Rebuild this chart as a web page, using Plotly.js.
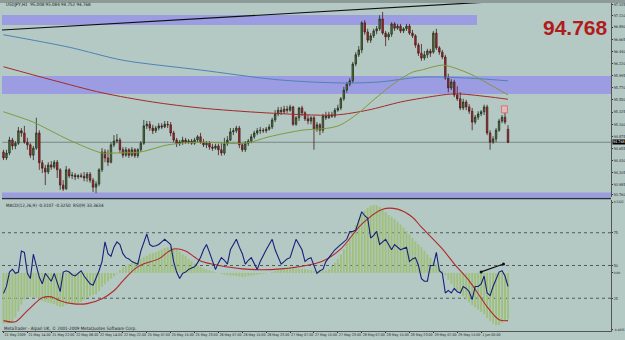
<!DOCTYPE html>
<html><head><meta charset="utf-8">
<script src="https://cdn.plot.ly/plotly-3.0.1.min.js"></script>
<style>html,body{margin:0;padding:0;background:#b4c8c4;}#chart{width:625px;height:340px;}</style>
</head><body><div id="chart"></div>
<script>
// ---------- DATA (USDJPY H1) ----------
const openP = [
94.59,94.48,94.57,94.81,94.70,94.75,94.98,94.94,94.77,94.72,
94.53,94.66,94.94,94.39,94.29,94.22,94.35,94.31,94.40,94.26,
93.98,93.91,94.26,94.15,94.16,94.13,94.15,94.14,94.11,94.18,
94.07,93.94,94.00,94.26,94.59,94.48,94.40,94.72,94.79,94.81,
94.63,94.53,94.63,94.53,94.63,94.52,94.63,94.75,95.07,95.10,
95.03,94.98,95.03,95.07,95.05,95.10,95.09,94.94,94.81,94.74,
94.77,94.81,94.77,94.79,94.75,94.81,94.87,94.77,94.72,94.75,
94.68,94.66,94.70,94.63,94.57,94.74,94.81,94.96,94.98,95.03,
94.72,94.63,94.75,94.79,94.87,94.94,94.98,94.99,94.98,95.01,
95.05,95.18,95.29,95.36,95.33,95.38,95.36,95.42,95.10,95.22,
95.40,95.31,95.20,95.16,95.22,95.01,95.09,94.99,95.25,95.22,
95.27,95.25,95.36,95.40,95.57,95.73,95.84,95.90,96.21,96.38,
96.47,96.97,96.80,96.65,96.73,96.82,96.86,97.04,96.78,96.71,
96.76,96.95,96.87,96.91,96.82,96.86,96.91,96.78,96.73,96.56,
96.41,96.32,96.38,96.45,96.43,96.78,96.51,96.43,96.34,95.95,
95.77,95.88,95.64,95.57,95.40,95.51,95.42,95.34,95.14,95.23,
95.29,95.33,95.42,94.94,94.77,94.83,94.99,95.16,95.23,95.008];
const highP = [
94.63,94.63,94.87,94.85,94.79,95.05,95.03,95.07,94.85,94.75,
94.70,95.22,94.99,94.44,94.35,94.40,94.42,94.44,94.44,94.29,
94.07,94.33,94.29,94.22,94.20,94.18,94.20,94.22,94.22,94.22,
94.11,94.05,94.29,94.66,94.64,94.63,94.77,94.90,94.92,94.85,
94.68,94.68,94.66,94.68,94.66,94.66,94.79,95.18,95.16,95.16,
95.09,95.07,95.12,95.12,95.16,95.16,95.14,94.98,94.85,94.81,
94.87,94.85,94.83,94.83,94.85,94.90,94.94,94.83,94.79,94.79,
94.74,94.74,94.74,94.75,94.85,94.88,95.03,95.03,95.07,95.07,
94.75,94.79,94.83,94.92,94.98,95.03,95.05,95.03,95.05,95.10,
95.22,95.36,95.42,95.42,95.44,95.44,95.46,95.44,95.25,95.42,
95.44,95.34,95.27,95.25,95.25,95.14,95.12,95.29,95.33,95.33,
95.33,95.40,95.46,95.60,95.79,95.88,95.95,96.25,96.43,96.54,
97.00,97.02,96.86,96.78,96.86,96.91,97.11,97.17,96.82,96.80,
96.98,96.98,96.95,96.95,96.89,96.95,96.95,96.84,96.76,96.60,
96.58,96.45,96.49,96.49,96.82,96.86,96.54,96.47,96.38,96.03,
95.93,95.92,95.80,95.69,95.57,95.55,95.47,95.40,95.27,95.34,
95.36,95.46,95.46,94.99,94.88,95.03,95.20,95.27,95.42,95.084];
const lowP = [
94.44,94.44,94.53,94.63,94.64,94.72,94.87,94.74,94.63,94.48,
94.44,94.63,94.26,94.20,93.98,94.18,94.26,94.28,94.11,93.89,
93.87,93.89,94.11,94.09,94.07,94.09,94.11,94.05,94.04,94.02,
93.85,93.83,93.96,94.22,94.40,94.33,94.38,94.68,94.75,94.57,
94.48,94.50,94.48,94.50,94.48,94.48,94.59,94.72,95.01,94.98,
94.92,94.94,94.99,95.01,95.03,95.03,94.88,94.77,94.68,94.70,
94.72,94.74,94.74,94.72,94.72,94.77,94.74,94.68,94.66,94.63,
94.61,94.63,94.53,94.52,94.53,94.70,94.79,94.90,94.94,94.66,
94.59,94.59,94.70,94.75,94.83,94.90,94.92,94.94,94.94,94.98,
95.01,95.14,95.25,95.27,95.29,95.31,95.33,95.07,95.07,95.16,
95.25,95.16,95.10,95.10,94.63,94.96,94.90,94.94,95.18,95.20,
95.22,95.22,95.33,95.36,95.53,95.68,95.80,95.86,96.17,96.34,
96.41,96.75,96.60,96.60,96.69,96.76,96.82,96.75,96.54,96.65,
96.71,96.82,96.84,96.78,96.78,96.82,96.745,96.69,96.51,96.36,
96.27,96.28,96.32,96.34,96.40,96.47,96.38,96.30,95.92,95.69,
95.73,95.60,95.53,95.36,95.36,95.36,95.29,94.99,95.10,95.18,
95.25,95.27,94.90,94.63,94.74,94.77,94.96,95.12,95.10,94.752];
const closeP = [
94.48,94.57,94.81,94.70,94.75,94.98,94.94,94.77,94.72,94.53,
94.66,94.94,94.39,94.29,94.22,94.35,94.31,94.40,94.26,93.98,
93.91,94.26,94.15,94.16,94.13,94.15,94.14,94.11,94.18,94.07,
93.94,94.00,94.26,94.59,94.48,94.40,94.72,94.79,94.81,94.63,
94.53,94.63,94.53,94.63,94.52,94.63,94.75,95.07,95.10,95.03,
94.98,95.03,95.07,95.05,95.10,95.09,94.94,94.81,94.74,94.77,
94.81,94.77,94.79,94.75,94.81,94.87,94.77,94.72,94.75,94.68,
94.66,94.70,94.63,94.57,94.74,94.81,94.96,94.98,95.03,94.72,
94.63,94.75,94.79,94.87,94.94,94.98,94.99,94.98,95.01,95.05,
95.18,95.29,95.36,95.33,95.38,95.36,95.42,95.10,95.22,95.40,
95.31,95.20,95.16,95.22,95.01,95.09,94.99,95.25,95.22,95.27,
95.25,95.36,95.40,95.57,95.73,95.84,95.90,96.21,96.38,96.47,
96.97,96.80,96.65,96.73,96.82,96.86,97.04,96.78,96.71,96.76,
96.95,96.87,96.91,96.82,96.86,96.91,96.78,96.73,96.56,96.41,
96.32,96.38,96.45,96.41,96.78,96.51,96.43,96.34,95.95,95.77,
95.88,95.64,95.57,95.40,95.51,95.42,95.34,95.14,95.23,95.29,
95.33,95.42,94.94,94.77,94.83,94.99,95.16,95.23,95.14,94.768];

// moving averages (read at sample bars)
const maBlueBar = [0,22,40,66,90,103,116,126,140,156,169];
const maBlueVal = [96.75,96.52,96.28,96.10,95.93,95.88,95.86,95.88,95.97,95.95,95.90];
const maRedBar  = [0,16,33,50,66,88,111,122,133,140,151,162,169];
const maRedVal  = [96.16,95.92,95.68,95.51,95.40,95.31,95.27,95.36,95.51,95.58,95.66,95.61,95.56];
const maGreenBar = [0,6,10,22,33,37,46,55,66,81,89,100,109,113,119,124,131,137,140,147,151,157,162,169];
const maGreenVal = [95.33,95.22,95.14,94.81,94.57,94.57,94.59,94.72,94.77,94.75,94.87,94.99,95.03,95.09,95.31,95.55,95.86,96.06,96.10,96.19,96.14,96.01,95.86,95.64];

// MACD histogram
const macdHist = [
-0.224,-0.224,-0.222,-0.215,-0.198,-0.170,-0.140,-0.118,-0.108,-0.106,
-0.106,-0.110,-0.118,-0.124,-0.128,-0.132,-0.134,-0.138,-0.145,-0.150,
-0.148,-0.140,-0.136,-0.134,-0.136,-0.135,-0.128,-0.118,-0.110,-0.104,
-0.098,-0.094,-0.080,-0.062,-0.050,-0.038,-0.026,-0.015,-0.004,0.012,
0.025,0.032,0.038,0.044,0.048,0.055,0.062,0.070,0.076,0.082,
0.088,0.092,0.098,0.104,0.110,0.113,0.114,0.112,0.106,0.095,
0.082,0.075,0.062,0.052,0.042,0.032,0.026,0.020,0.016,0.012,
0.008,0.004,0.000,-0.004,-0.008,-0.010,-0.012,-0.012,-0.014,-0.016,
-0.018,-0.016,-0.014,-0.012,-0.010,-0.008,-0.006,-0.004,-0.002,0.000,
0.004,0.008,0.012,0.016,0.020,0.022,0.022,0.020,0.018,0.018,
0.018,0.016,0.014,0.012,0.010,0.010,0.008,0.008,0.010,0.016,
0.030,0.045,0.062,0.082,0.105,0.130,0.158,0.185,0.212,0.238,
0.258,0.275,0.288,0.297,0.300,0.298,0.292,0.282,0.270,0.256,
0.248,0.238,0.226,0.214,0.200,0.186,0.170,0.155,0.140,0.126,
0.114,0.098,0.082,0.066,0.050,0.036,0.022,0.010,-0.010,-0.030,
-0.048,-0.062,-0.076,-0.090,-0.104,-0.118,-0.130,-0.142,-0.152,-0.162,
-0.172,-0.182,-0.198,-0.212,-0.224,-0.232,-0.230,-0.222,-0.212,-0.206];
// signal line (sampled)
const sigBar = [0,4,8,13,16,19,23,28,33,37,40,44,47,52,55,57,61,64,66,80,93,107,113,120,127,132,137,140,147,151,156,159,162,166,169];
const sigVal = [-0.211,-0.216,-0.167,-0.110,-0.106,-0.123,-0.136,-0.136,-0.114,-0.079,-0.035,0.018,0.040,0.062,0.092,0.106,0.097,0.070,0.053,0.018,0.018,0.053,0.106,0.216,0.282,0.282,0.246,0.202,0.106,0.040,-0.035,-0.092,-0.150,-0.207,-0.211];
// RSI(9)
const rsi = [
28.7,34,45,47,44,45,61,60,44,40,
58.6,50,41,36,44,41,38,44,37,30,
45,46,45,43,42,44,46,42,39,36,
35,40,46,53,68,59,57,64,68,66,
59,56,55,53,52,51,61,68,74,66,
64.5,65,66,68,70,68,66,53,45,40,
44,45,47,48,49,52,56,62,66,60,
53,47,52,56,54,51,62,66,70,64,
59,51,54,56,52,47,53,58,62,66,
70,62,56,51,53,55,56,63,70,66,
62,53,55,56,50,44,46,47,53,56,
59,62,64,66,68,70,76,76,77,84,
91,88,86,71,73,76,66,68,70,66,
62,66,64,62,63,64,53,55,56,50,
40,38,38,50,50,60,46,44,29,31,
29,32.5,30,29,34,32.5,30,24,34,34,
36,42,29,27,34,40,45,46,42,34];

// drawn objects
const trendBar = [-0.5, 167.8], trendPrice = [96.837, 97.37];
const rsiTrendBar = [160, 167.5], rsiTrendVal = [45.1, 51.1];
const zoneTop = [96.929, 97.114], zoneTopEndBar = 158.6;
const zoneMid = [95.66, 95.99];
const zoneLow = [93.759, 93.84];
const lastPrice = 94.768;
const markerBox = {bars:[166.8,168.8], prices:[95.31,95.44]};

// axis labels
const priceTicks = [97.30,97.110,96.890,96.665,96.440,96.220,95.995,95.770,95.550,95.325,95.100,94.875,94.655,94.430,94.205,93.985,93.800];
const priceTickText = ["97.335","97.110","96.890","96.665","96.440","96.220","95.995","95.770","95.550","95.325","95.100","94.875","94.655","94.430","94.205","93.985","93.760"];
const dateTickBars = [0,8,16,24,32,40,48,56,64,72,80,88,96,104,112,120,128,136,144,152,160];
const dateTickText = ["21 May 2009","21 May 14:00","21 May 22:00","22 May 06:00","22 May 14:00","22 May 22:00","25 May 07:00","25 May 15:00","25 May 23:00","26 May 07:00","26 May 15:00","26 May 23:00","27 May 07:00","27 May 15:00","27 May 23:00","28 May 07:00","28 May 15:00","28 May 23:00","29 May 07:00","29 May 15:00","1 Jun 00:00"];
const rsiLevels = [25,50,75];
const macdTickVals = [0.312, 0, -0.250];
const macdTickText = ["0.3225","0.00","-0.4035"];

// ---------- CHART ----------
const BG = '#b4c8c4';
const idx = openP.map((_, i) => i);
const FAM = 'DejaVu Sans Condensed, DejaVu Sans, sans-serif';
const smallFont = {family:FAM, size:4.5, color:'#1c2222'};
const axisFont = {family:FAM, size:3.7, color:'#1c2222'};
const macdFont = {family:FAM, size:3.2, color:'#1c2222'};
const dateFont = {family:FAM, size:3.6, color:'#1c2222'};

const traces = [
  {type:'scatter', mode:'lines', x:maBlueBar, y:maBlueVal, line:{color:'#4f82b8', width:1, shape:'spline', smoothing:0.8}, xaxis:'x', yaxis:'y', hoverinfo:'skip'},
  {type:'scatter', mode:'lines', x:maRedBar, y:maRedVal, line:{color:'#a42a2a', width:1, shape:'spline', smoothing:0.8}, xaxis:'x', yaxis:'y', hoverinfo:'skip'},
  {type:'scatter', mode:'lines', x:maGreenBar, y:maGreenVal, line:{color:'#7e9b3c', width:1, shape:'spline', smoothing:0.8}, xaxis:'x', yaxis:'y', hoverinfo:'skip'},
  {type:'scatter', mode:'lines', x:trendBar, y:trendPrice, line:{color:'#101010', width:1.2}, xaxis:'x', yaxis:'y', hoverinfo:'skip'},
  {type:'candlestick', x:idx, open:openP, high:highP, low:lowP, close:closeP, xaxis:'x', yaxis:'y',
    increasing:{line:{color:'#263020', width:0.8}, fillcolor:'#577a35'},
    decreasing:{line:{color:'#4a1c1c', width:0.8}, fillcolor:'#b82828'},
    whiskerwidth:0, hoverinfo:'skip'},
  {type:'bar', x:idx, y:macdHist, xaxis:'x', yaxis:'y2', width:0.62, marker:{color:'#9ec079', line:{width:0}}, hoverinfo:'skip'},
  {type:'scatter', mode:'lines', x:sigBar, y:sigVal, xaxis:'x', yaxis:'y2', line:{color:'#b02a2a', width:1.1, shape:'spline', smoothing:0.9}, hoverinfo:'skip'},
  {type:'scatter', mode:'lines', x:idx, y:rsi, xaxis:'x', yaxis:'y3', line:{color:'#17207a', width:1.1}, hoverinfo:'skip'},
  {type:'scatter', mode:'lines+markers', x:rsiTrendBar, y:rsiTrendVal, xaxis:'x', yaxis:'y3', line:{color:'#111', width:1.2}, marker:{color:'#111', size:3}, hoverinfo:'skip'}
];

const shapes = [
  {type:'rect', xref:'x', yref:'y', x0:-0.5, x1:zoneTopEndBar, y0:zoneTop[0], y1:zoneTop[1], fillcolor:'#9c9ce2', line:{width:0}, layer:'below'},
  {type:'rect', xref:'paper', yref:'y', x0:0, x1:1, y0:zoneMid[0], y1:zoneMid[1], fillcolor:'#9c9ce2', line:{width:0}, layer:'below'},
  {type:'rect', xref:'paper', yref:'y', x0:0, x1:1, y0:zoneLow[0], y1:zoneLow[1], fillcolor:'#9c9ce2', line:{width:0}, layer:'below'},
  {type:'line', xref:'paper', yref:'y', x0:0, x1:1, y0:lastPrice, y1:lastPrice, line:{color:'#7b8886', width:1}, layer:'below'},
  {type:'rect', xref:'x', yref:'y', x0:markerBox.bars[0], x1:markerBox.bars[1], y0:markerBox.prices[0], y1:markerBox.prices[1], fillcolor:'#e6b8b8', line:{color:'#cc6a6a', width:0.8}},
  {type:'line', xref:'paper', yref:'paper', x0:0, x1:1, y0:0.404, y1:0.404, line:{color:'#2b2e48', width:1.5}},
  {type:'rect', xref:'paper', yref:'paper', x0:-0.01, x1:1.03, y0:1.0, y1:1.012, fillcolor:'#8d9b98', line:{width:0}}
].concat(rsiLevels.map(v => ({type:'line', xref:'paper', yref:'y3', x0:0, x1:1, y0:v, y1:v, line:{color:'#4f5a5a', width:1, dash:'dot'}, layer:'below'})));

const annotations = [
  {xref:'paper', yref:'paper', x:0.003, y:0.994, xanchor:'left', yanchor:'middle', showarrow:false, text:'USDJPY,H1  95.008 95.084 94.752 94.768', font:smallFont},
  {xref:'paper', yref:'paper', x:0.998, y:0.925, xanchor:'right', yanchor:'middle', showarrow:false, text:'94.768', font:{family:'Liberation Sans, Arial, sans-serif', size:21, color:'#b01c1c', weight:700}},
  {xref:'paper', yref:'paper', x:0.003, y:0.384, xanchor:'left', yanchor:'middle', showarrow:false, text:'MACD(12,26,9) -0.3107 -0.3250  RSI(9) 33.3634', font:smallFont},
  {xref:'paper', yref:'paper', x:0.0, y:0.007, xanchor:'left', yanchor:'middle', showarrow:false, text:'MetaTrader - Alpari UK, © 2001-2009 MetaQuotes Software Corp.', font:smallFont},
  {xref:'paper', yref:'y', x:1, y:lastPrice, xanchor:'left', yanchor:'middle', xshift:1, showarrow:false, text:'94.768', bgcolor:'#000000', borderpad:0, font:{family:FAM, size:3.7, color:'#ffffff'}}
];

const axCommon = {showgrid:false, zeroline:false, fixedrange:true};
const layout = {
  width:625, height:340,
  margin:{l:2, r:14, t:3, b:9},
  paper_bgcolor:BG, plot_bgcolor:BG,
  showlegend:false,
  font:smallFont,
  xaxis:Object.assign({}, axCommon, {domain:[0,1], anchor:'y2', range:[-0.5,203.5], rangeslider:{visible:false},
    tickmode:'array', tickvals:dateTickBars, ticktext:dateTickText, ticks:'outside', ticklen:1, tickcolor:'#333',
    tickangle:0, ticklabelposition:'outside right', ticklabelstandoff:0, tickfont:dateFont, showline:true, linecolor:'#555', linewidth:1}),
  yaxis:Object.assign({}, axCommon, {domain:[0.4085,1], range:[93.759,97.335], side:'right', anchor:'x',
    tickmode:'array', tickvals:priceTicks, ticktext:priceTickText, ticks:'outside', ticklen:1, tickcolor:'#333',
    ticklabelstandoff:0, showline:true, linecolor:'#555', linewidth:1, tickfont:axisFont}),
  yaxis2:Object.assign({}, axCommon, {domain:[0,0.3994], range:[-0.257,0.3225], side:'right', anchor:'x',
    tickmode:'array', tickvals:macdTickVals, ticktext:macdTickText, ticks:'outside', ticklen:1, tickcolor:'#333',
    ticklabelstandoff:0, showline:true, linecolor:'#555', linewidth:1, tickfont:macdFont}),
  yaxis3:Object.assign({}, axCommon, {overlaying:'y2', range:[0,100], side:'right', anchor:'x',
    tickmode:'array', tickvals:rsiLevels, ticktext:rsiLevels.map(String), ticks:'outside', ticklen:1, tickcolor:'#333',
    ticklabelstandoff:0, showline:false, tickfont:axisFont}),
  shapes:shapes,
  annotations:annotations
};

Plotly.newPlot('chart', traces, layout, {staticPlot:true, displayModeBar:false});
</script></body></html>
